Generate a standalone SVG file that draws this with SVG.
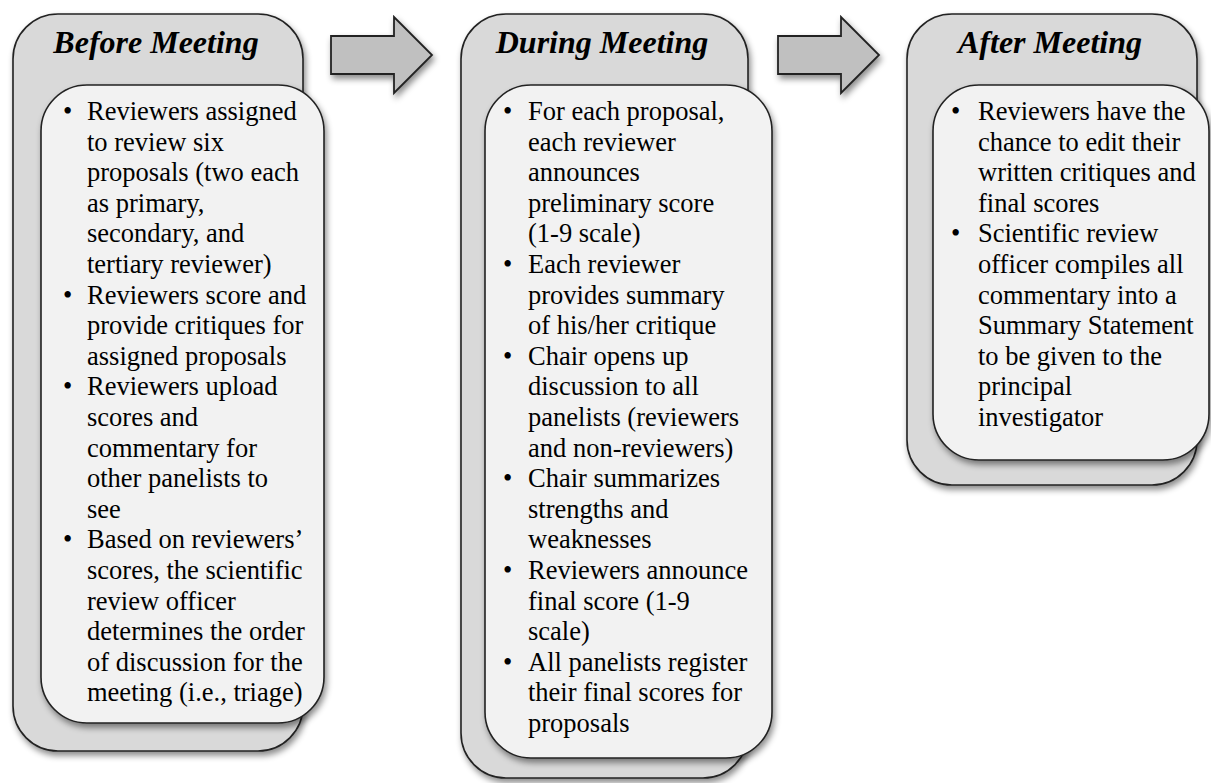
<svg xmlns="http://www.w3.org/2000/svg" width="1211" height="783" viewBox="0 0 1211 783">
<defs>
<filter id="sh" x="-10%" y="-10%" width="130%" height="130%">
<feDropShadow dx="2" dy="4" stdDeviation="3" flood-color="#000" flood-opacity="0.45"/>
</filter>
<style>
.outer{fill:#d9d9d9;stroke:#222;stroke-width:1.6}
.inner{fill:#f2f2f2;stroke:#222;stroke-width:1.6}
.arrow{fill:#c0c0c0;stroke:#222;stroke-width:1.8;stroke-linejoin:miter}
.title{font-family:"Liberation Serif","Times New Roman",serif;font-weight:bold;font-style:italic;font-size:32px;fill:#000;text-anchor:middle}
.body{font-family:"Liberation Serif","Times New Roman",serif;font-size:26.5px;fill:#000}
</style>
</defs>
<rect width="1211" height="783" fill="#fff"/>

<g id="connectors">
<polygon class="arrow" filter="url(#sh)" points="331,36 394,36 394,17 432,55 394,93 394,74 331,74"/>
<polygon class="arrow" filter="url(#sh)" points="778,36 841,36 841,17 879,55 841,93 841,74 778,74"/>
</g>

<g id="before">
<rect class="outer" filter="url(#sh)" x="13" y="14" width="290" height="737" rx="45" ry="45"/>
<text class="title" x="156" y="53">Before Meeting</text>
<rect class="inner" filter="url(#sh)" x="41" y="85" width="283" height="638" rx="46" ry="46"/>
<text class="body">
<tspan x="63" y="120">•</tspan><tspan x="87" y="120">Reviewers assigned</tspan>
<tspan x="87" y="150.6">to review six</tspan>
<tspan x="87" y="181.2">proposals (two each</tspan>
<tspan x="87" y="211.8">as primary,</tspan>
<tspan x="87" y="242.4">secondary, and</tspan>
<tspan x="87" y="273">tertiary reviewer)</tspan>
<tspan x="63" y="303.6">•</tspan><tspan x="87" y="303.6">Reviewers score and</tspan>
<tspan x="87" y="334.2">provide critiques for</tspan>
<tspan x="87" y="364.8">assigned proposals</tspan>
<tspan x="63" y="395.4">•</tspan><tspan x="87" y="395.4">Reviewers upload</tspan>
<tspan x="87" y="426">scores and</tspan>
<tspan x="87" y="456.6">commentary for</tspan>
<tspan x="87" y="487.2">other panelists to</tspan>
<tspan x="87" y="517.8">see</tspan>
<tspan x="63" y="548.4">•</tspan><tspan x="87" y="548.4">Based on reviewers’</tspan>
<tspan x="87" y="579">scores, the scientific</tspan>
<tspan x="87" y="609.6">review officer</tspan>
<tspan x="87" y="640.2">determines the order</tspan>
<tspan x="87" y="670.8">of discussion for the</tspan>
<tspan x="87" y="701.4">meeting (i.e., triage)</tspan>
</text>
</g>

<g id="during">
<rect class="outer" filter="url(#sh)" x="461" y="14" width="287" height="764" rx="45" ry="45"/>
<text class="title" x="602" y="53">During Meeting</text>
<rect class="inner" filter="url(#sh)" x="485" y="85" width="287" height="673" rx="46" ry="46"/>
<text class="body">
<tspan x="503" y="120">•</tspan><tspan x="528" y="120">For each proposal,</tspan>
<tspan x="528" y="150.6">each reviewer</tspan>
<tspan x="528" y="181.2">announces</tspan>
<tspan x="528" y="211.8">preliminary score</tspan>
<tspan x="528" y="242.4">(1-9 scale)</tspan>
<tspan x="503" y="273">•</tspan><tspan x="528" y="273">Each reviewer</tspan>
<tspan x="528" y="303.6">provides summary</tspan>
<tspan x="528" y="334.2">of his/her critique</tspan>
<tspan x="503" y="364.8">•</tspan><tspan x="528" y="364.8">Chair opens up</tspan>
<tspan x="528" y="395.4">discussion to all</tspan>
<tspan x="528" y="426">panelists (reviewers</tspan>
<tspan x="528" y="456.6">and non-reviewers)</tspan>
<tspan x="503" y="487.2">•</tspan><tspan x="528" y="487.2">Chair summarizes</tspan>
<tspan x="528" y="517.8">strengths and</tspan>
<tspan x="528" y="548.4">weaknesses</tspan>
<tspan x="503" y="579">•</tspan><tspan x="528" y="579">Reviewers announce</tspan>
<tspan x="528" y="609.6">final score (1-9</tspan>
<tspan x="528" y="640.2">scale)</tspan>
<tspan x="503" y="670.8">•</tspan><tspan x="528" y="670.8">All panelists register</tspan>
<tspan x="528" y="701.4">their final scores for</tspan>
<tspan x="528" y="732">proposals</tspan>
</text>
</g>

<g id="after">
<rect class="outer" filter="url(#sh)" x="907" y="14" width="290" height="471" rx="45" ry="45"/>
<text class="title" x="1050" y="53">After Meeting</text>
<rect class="inner" filter="url(#sh)" x="933" y="85" width="276" height="375" rx="46" ry="46"/>
<text class="body">
<tspan x="951" y="120">•</tspan><tspan x="978" y="120">Reviewers have the</tspan>
<tspan x="978" y="150.6">chance to edit their</tspan>
<tspan x="978" y="181.2">written critiques and</tspan>
<tspan x="978" y="211.8">final scores</tspan>
<tspan x="951" y="242.4">•</tspan><tspan x="978" y="242.4">Scientific review</tspan>
<tspan x="978" y="273">officer compiles all</tspan>
<tspan x="978" y="303.6">commentary into a</tspan>
<tspan x="978" y="334.2">Summary Statement</tspan>
<tspan x="978" y="364.8">to be given to the</tspan>
<tspan x="978" y="395.4">principal</tspan>
<tspan x="978" y="426">investigator</tspan>
</text>
</g>
</svg>
